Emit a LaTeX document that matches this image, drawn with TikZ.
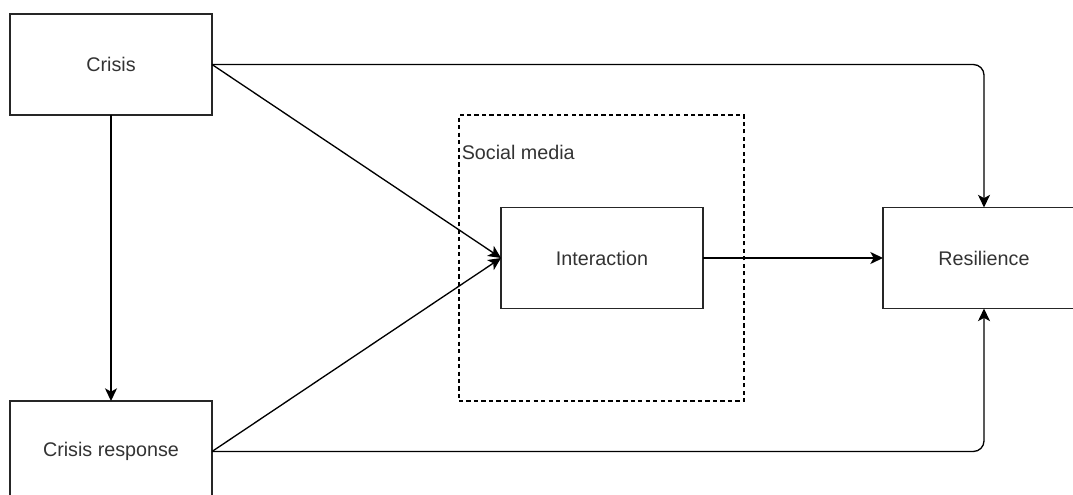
\documentclass[tikz,border=0pt]{standalone}
\usepackage{fontspec}
\setmainfont{Liberation Sans}
\usetikzlibrary{arrows.meta}
\begin{document}
\begin{tikzpicture}[x=0.75pt,y=-0.75pt,
  box/.style={draw=black!85,line width=1.2pt,fill=white,minimum width=151.5pt,minimum height=75.75pt,inner sep=0pt,outer sep=0pt,
    font=\fontsize{14.8}{17}\selectfont,text=black!80},
  conn/.style={draw=black,line width=1pt,-{Stealth[length=9.5pt,width=9pt,inset=2.5pt]}},
  group/.style={draw=black,line width=1pt,dash pattern=on 3.2pt off 2.4pt,minimum width=213.75pt,minimum height=214.5pt,inner sep=0pt,outer sep=0pt}]
\useasboundingbox (0,0) rectangle (1073,495);
\clip (0,0) rectangle (1073,495);
\node[box] (crisis) at (111,64.5) {Crisis};
\node[box] (cresp) at (111,451.5) {Crisis response};
\node[group] (sm) at (601.5,258) {};
\node[anchor=base west,inner sep=0pt,font=\fontsize{14.8}{17}\selectfont,text=black!80] (smlabel) at (461.5,159.5) {Social media};
\node[box] (inter) at (602,258) {Interaction};
\node[box] (res) at (984,258) {Resilience};
\draw[conn] (crisis.south) -- (cresp.north);
\draw[conn] (crisis.east) -- (inter.west);
\draw[conn] (cresp.east) -- (inter.west);
\draw[conn] (inter.east) -- (res.west);
\draw[conn,rounded corners=8pt] (crisis.east) -| (res.north);
\draw[conn,rounded corners=8pt] (cresp.east) -| (res.south);
\end{tikzpicture}
\end{document}
